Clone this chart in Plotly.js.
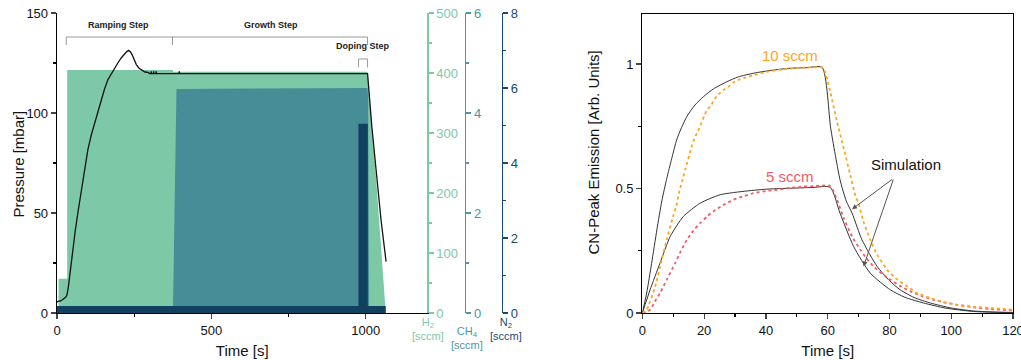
<!DOCTYPE html>
<html>
<head>
<meta charset="utf-8">
<script src="https://cdn.plot.ly/plotly-3.0.1.min.js"></script>
<style>
  html, body { margin: 0; padding: 0; background: #fff; }
  #chart { width: 1021px; height: 360px; }
</style>
</head>
<body>
<div id="chart"></div>
<script>
// ---- Left panel: process recipe (gas flows and chamber pressure) ----
const timeH2 = [0, 5, 5, 33, 33, 375, 376, 1006, 1035, 1065];
const flowH2 = [0, 0, 57, 57, 405, 405, 402, 402, 215, 0];

const timeCH4 = [375, 376, 387, 1006, 1008, 1011];
const flowCH4 = [0, 0.2, 4.48, 4.5, 4.3, 0];

const timeN2 = [0, 976.5, 976.5, 1007, 1007, 1065, 1065];
const flowN2 = [0.19, 0.19, 5.05, 5.05, 0.19, 0.19, 0];

const timeP = [0, 3, 12, 19, 25, 30, 33, 37, 43, 51, 59, 67.5, 76, 84, 91, 100, 111, 122, 132, 143,
  154, 165, 175, 184, 197, 208, 219, 226, 232, 238, 243, 250, 257, 265, 273, 285, 295, 300,
  304, 305, 306, 312, 313, 314, 320, 321, 322, 395, 396, 397, 600, 800, 1006, 1020, 1036, 1050, 1066];
const pressure = [5.3, 5.8, 6, 6.7, 7.5, 8.3, 9.5, 13.3, 21.7, 30, 41, 50, 58.5, 66.7, 71.7, 81.7, 89, 95, 101, 106.7,
  112, 116.7, 119.5, 121.7, 125, 127.5, 129.7, 130.7, 131.3, 130.5, 129.2, 126.8, 124.2, 122.5, 121.7, 120.5, 120.3, 119.7,
  119.7, 120.8, 119.7, 119.7, 120.8, 119.7, 119.7, 120.8, 119.7, 119.7, 120.8, 119.7, 119.7, 119.7, 119.7, 93, 66.5, 46, 25.7];

// process step boundaries [s]
const stepNames = ['Ramping Step', 'Growth Step', 'Doping Step'];
const stepStart = [30, 374, 976.5];
const stepEnd = [374, 1006, 1006];

// ---- Right panel: CN peak emission transients ----
const tData10 = [0, 1.4, 2, 4, 6, 8, 10, 11, 12, 13.3, 14, 16, 17.1, 18, 20, 20.9, 22, 24, 26.3, 28, 30, 32.7, 36, 40, 44, 48, 52, 56, 58.5,
  60.8, 63, 65.2, 67.5, 69, 70, 71.5, 73.8, 76, 79.2, 82, 85.7, 89, 93.3, 97, 101.9, 107, 112.7, 120];
const yData10 = [0, 0.013, 0.03, 0.1, 0.2, 0.3, 0.39, 0.43, 0.49, 0.548, 0.58, 0.67, 0.708, 0.73, 0.79, 0.815, 0.83, 0.87, 0.896, 0.91, 0.93, 0.943, 0.955, 0.968, 0.976, 0.982, 0.985, 0.987, 0.985,
  0.89, 0.77, 0.66, 0.545, 0.47, 0.44, 0.37, 0.294, 0.235, 0.174, 0.14, 0.107, 0.08, 0.06, 0.045, 0.033, 0.025, 0.02, 0.013];

const tData5 = [0, 2.5, 4, 5.7, 7.9, 10.6, 12.5, 14.4, 16.5, 18.7, 21, 23, 26, 29.5, 33, 36, 40, 43.6, 47.9, 52, 56, 60.8,
  63, 65.2, 67.9, 70.6, 72.5, 74.9, 77.5, 80.3, 83.5, 86.8, 90.5, 94.3, 98, 101.9, 107, 112.7, 120];
const yData5 = [0, 0.013, 0.045, 0.08, 0.134, 0.2, 0.25, 0.294, 0.33, 0.361, 0.388, 0.408, 0.432, 0.455, 0.47, 0.481, 0.49, 0.495, 0.503, 0.507, 0.51, 0.51,
  0.455, 0.381, 0.307, 0.254, 0.22, 0.187, 0.158, 0.134, 0.108, 0.087, 0.068, 0.053, 0.042, 0.033, 0.023, 0.016, 0.01];

const tSim10 = [0, 1.4, 3, 4.7, 6.3, 7.9, 9.5, 11.1, 12.7, 14.4, 17, 19.8, 23, 27.4, 31, 36, 42, 47.9, 53, 58.2,
  61, 64, 66, 67.9, 71.1, 76, 80, 83.5, 88, 93.3, 100, 107.3, 115, 120];
const ySim10 = [0, 0.08, 0.2, 0.334, 0.45, 0.54, 0.62, 0.695, 0.745, 0.789, 0.835, 0.869, 0.9, 0.929, 0.948, 0.963, 0.975, 0.983, 0.985, 0.986,
  0.74, 0.535, 0.45, 0.401, 0.294, 0.187, 0.13, 0.093, 0.062, 0.04, 0.02, 0.008, 0.003, 0.002];

const tSim5 = [0, 2.5, 5.7, 9, 13.3, 18.7, 25.2, 33.8, 41, 47.9, 55, 60.8,
  64, 68.4, 73.8, 80.3, 85, 91.1, 98, 107.3, 115, 120];
const ySim5 = [0, 0.093, 0.2, 0.307, 0.388, 0.441, 0.475, 0.49, 0.498, 0.501, 0.504, 0.505,
  0.401, 0.267, 0.16, 0.093, 0.063, 0.04, 0.02, 0.006, 0.003, 0.002];

const cH2 = '#7DC9A7', cCH4 = '#478D97', cN2 = '#12415F';
const cH2axis = '#7DC9A7', cCH4axis = '#4B97A3', cN2axis = '#1A4A6B';
const cOrange = '#FFA51E', cRed = '#F25C66';
const FONT = 'Arial, "Liberation Sans", sans-serif';

const traces = [
  { x: timeH2, y: flowH2, xaxis: 'x', yaxis: 'y', mode: 'lines', fill: 'tozeroy',
    fillcolor: cH2, line: { width: 0, color: cH2 }, hoverinfo: 'skip' },
  { x: timeCH4, y: flowCH4, xaxis: 'x', yaxis: 'y2', mode: 'lines', fill: 'tozeroy',
    fillcolor: cCH4, line: { width: 0, color: cCH4 }, hoverinfo: 'skip' },
  { x: timeN2, y: flowN2, xaxis: 'x', yaxis: 'y3', mode: 'lines', fill: 'tozeroy',
    fillcolor: cN2, line: { width: 0, color: cN2 }, hoverinfo: 'skip' },
  { x: timeP, y: pressure, xaxis: 'x', yaxis: 'y4', mode: 'lines',
    line: { width: 1.3, color: '#111' } },

  { x: tSim10, y: ySim10, xaxis: 'x2', yaxis: 'y5', mode: 'lines',
    line: { width: 1, color: '#333', shape: 'spline', smoothing: 0.6 } },
  { x: tSim5, y: ySim5, xaxis: 'x2', yaxis: 'y5', mode: 'lines',
    line: { width: 1, color: '#333', shape: 'spline', smoothing: 0.6 } },
  { x: tData5, y: yData5, xaxis: 'x2', yaxis: 'y5', mode: 'lines',
    line: { width: 1.8, color: cRed, dash: 'dot', shape: 'spline', smoothing: 0.6 } },
  { x: tData10, y: yData10, xaxis: 'x2', yaxis: 'y5', mode: 'lines',
    line: { width: 1.8, color: cOrange, dash: 'dot', shape: 'spline', smoothing: 0.6 } }
];

function axisBase(extra) {
  return Object.assign({
    showgrid: false, zeroline: false, showline: true, linewidth: 1.3,
    ticks: 'outside', ticklen: 5, tickwidth: 1.2, fixedrange: true
  }, extra);
}

// step brackets above the pressure curve
const shapes = [];
const annotations = [];
const bracketY = [138, 138, 127];
const tickDrop = [4, 4, 4.2];
const labelY = [140.5, 140.5, 130];
const labelX = [200, 692, 991];
for (let i = 0; i < stepNames.length; i++) {
  const y0 = bracketY[i], y1 = bracketY[i] - tickDrop[i];
  const ln = { color: '#999', width: 1 };
  shapes.push({ type: 'line', xref: 'x', yref: 'y4', x0: stepStart[i], x1: stepEnd[i], y0: y0, y1: y0, line: ln });
  shapes.push({ type: 'line', xref: 'x', yref: 'y4', x0: stepStart[i], x1: stepStart[i], y0: y0, y1: y1, line: ln });
  shapes.push({ type: 'line', xref: 'x', yref: 'y4', x0: stepEnd[i], x1: stepEnd[i], y0: y0, y1: y1, line: ln });
  annotations.push({ xref: 'x', yref: 'y4', x: labelX[i], y: labelY[i], text: '<b>' + stepNames[i] + '</b>',
    showarrow: false, xanchor: 'center', yanchor: 'bottom', font: { size: 9, color: '#222', family: FONT } });
}

// y-axis titles
annotations.push(
  { xref: 'paper', yref: 'paper', x: (17.5 - 57) / 956, y: (313 - 164) / 300, text: 'Pressure [mbar]',
    textangle: -90, showarrow: false, xanchor: 'center', yanchor: 'middle',
    font: { size: 15, color: '#111', family: FONT } },
  { xref: 'paper', yref: 'paper', x: (592.5 - 57) / 956, y: (313 - 153) / 300, text: 'CN-Peak Emission [Arb. Units]',
    textangle: -90, showarrow: false, xanchor: 'center', yanchor: 'middle',
    font: { size: 15, color: '#111', family: FONT } }
);

// gas axis titles below the flow axes
annotations.push(
  { xref: 'paper', yref: 'paper', x: 0.3877, y: -0.0523, text: 'H<sub>2</sub><br>[sccm]', showarrow: false,
    xanchor: 'center', yanchor: 'middle', font: { size: 11, color: cH2axis, family: FONT } },
  { xref: 'paper', yref: 'paper', x: 0.4286, y: -0.083, text: 'CH<sub>4</sub><br>[sccm]', showarrow: false,
    xanchor: 'center', yanchor: 'middle', font: { size: 11, color: cCH4axis, family: FONT } },
  { xref: 'paper', yref: 'paper', x: 0.4697, y: -0.0523, text: 'N<sub>2</sub><br>[sccm]', showarrow: false,
    xanchor: 'center', yanchor: 'middle', font: { size: 11, color: cN2axis, family: FONT } }
);

// right panel labels and arrows
annotations.push(
  { xref: 'x2', yref: 'y5', x: 47.9, y: 1.036, text: '10 sccm', showarrow: false,
    font: { size: 15, color: cOrange, family: FONT } },
  { xref: 'x2', yref: 'y5', x: 47.9, y: 0.548, text: '5 sccm', showarrow: false,
    font: { size: 15, color: cRed, family: FONT } },
  { xref: 'x2', yref: 'y5', x: 85.4, y: 0.595, text: 'Simulation', showarrow: false,
    font: { size: 15, color: '#111', family: FONT } },
  { xref: 'x2', yref: 'y5', x: 67.9, y: 0.417, axref: 'x2', ayref: 'y5', ax: 81.4, ay: 0.5415,
    text: '', showarrow: true, arrowhead: 2, arrowsize: 1, arrowwidth: 1, arrowcolor: '#555' },
  { xref: 'x2', yref: 'y5', x: 71.6, y: 0.187, axref: 'x2', ayref: 'y5', ax: 81.4, ay: 0.5415,
    text: '', showarrow: true, arrowhead: 2, arrowsize: 1, arrowwidth: 1, arrowcolor: '#555' }
);

const layout = {
  width: 1021, height: 360,
  margin: { l: 57, r: 8, t: 13, b: 47 },
  paper_bgcolor: '#fff', plot_bgcolor: 'rgba(0,0,0,0)',
  showlegend: false,
  font: { family: FONT, size: 13, color: '#111' },

  xaxis: axisBase({ domain: [0, 0.3875], anchor: 'y', range: [0, 1200], tick0: 0, dtick: 500,
    linecolor: '#000', minor: { dtick: 250, ticks: 'outside', ticklen: 3, tickcolor: '#000' },
    title: { text: 'Time [s]', font: { size: 15 }, standoff: 8 } }),

  yaxis: axisBase({ domain: [0, 1], anchor: 'x', side: 'right', range: [0, 500], tick0: 0, dtick: 100,
    linecolor: cH2axis, tickcolor: cH2axis, tickfont: { color: cH2axis, size: 13 },
    minor: { dtick: 50, ticks: 'outside', ticklen: 3, tickcolor: cH2axis } }),
  yaxis2: axisBase({ overlaying: 'y', anchor: 'free', position: 0.4268, side: 'right', range: [0, 6], tick0: 0, dtick: 2,
    linecolor: cCH4axis, tickcolor: cCH4axis, tickfont: { color: cCH4axis, size: 13 },
    minor: { dtick: 1, ticks: 'outside', ticklen: 3, tickcolor: cCH4axis } }),
  yaxis3: axisBase({ overlaying: 'y', anchor: 'free', position: 0.4652, side: 'right', range: [0, 8], tick0: 0, dtick: 2,
    linecolor: cN2axis, tickcolor: cN2axis, tickfont: { color: cN2axis, size: 13 },
    minor: { dtick: 1, ticks: 'outside', ticklen: 3, tickcolor: cN2axis } }),
  yaxis4: axisBase({ overlaying: 'y', anchor: 'x', side: 'left', range: [0, 150], tick0: 0, dtick: 50,
    linecolor: '#000', minor: { dtick: 25, ticks: 'outside', ticklen: 3, tickcolor: '#000' } }),

  xaxis2: axisBase({ domain: [0.6123, 1], anchor: 'y5', range: [0, 120], tick0: 0, dtick: 20,
    ticklabeloverflow: 'allow',
    linecolor: '#000', mirror: true, minor: { dtick: 10, ticks: 'outside', ticklen: 3, tickcolor: '#000' },
    title: { text: 'Time [s]', font: { size: 15 }, standoff: 8 } }),
  yaxis5: axisBase({ domain: [0, 0.996], anchor: 'x2', range: [0, 1.2],
    tickvals: [0, 0.5, 1], ticktext: ['0', '0.5', '1'],
    linecolor: '#000', mirror: true, minor: { dtick: 0.25, ticks: 'outside', ticklen: 3, tickcolor: '#000' } }),

  shapes: shapes,
  annotations: annotations
};

Plotly.newPlot('chart', traces, layout, { staticPlot: true, displayModeBar: false });
</script>
</body>
</html>
